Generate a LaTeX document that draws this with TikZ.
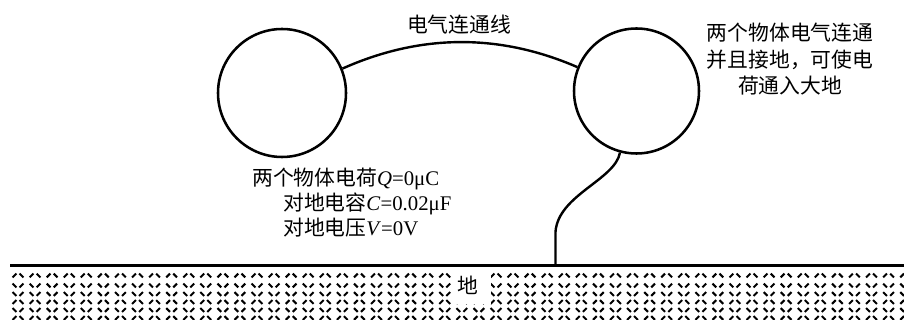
\documentclass[tikz,border=0pt]{standalone}
\usepackage{fontspec}
\setmainfont{Liberation Serif}
\newfontfamily\cjk{Noto Sans CJK SC}
\begin{document}
\begin{tikzpicture}[x=0.75pt,y=-0.75pt,
  obj/.style={circle,draw,line width=1.9pt,inner sep=0pt},
  wire/.style={line width=1.8pt},
  txt/.style={inner sep=0pt,font=\fontsize{15.6pt}{18pt}\selectfont},
  hatchA/.style={line width=1.5pt},
  groundline/.style={line width=2pt}]
\useasboundingbox (0,0) rectangle (904,320);
% objects
\node[obj,minimum size=96pt] (L) at (282,93) {};
\node[obj,minimum size=93.75pt] (R) at (636.5,91) {};
\draw[wire] (L.22) .. controls (420.7,33.7) and (499.3,33.3) .. (R.158);
\node[txt,anchor=base] (lbl) at (459,33) {\cjk 电气连通线};
% right text
\node[txt,anchor=base] (r1) at (790,41) {\cjk 两个物体电气连通};
\node[txt,anchor=base] (r2) at (790,68) {\cjk 并且接地，可使电};
\node[txt,anchor=base] (r3) at (790,94) {\cjk 荷通入大地};
% left text
\node[txt,anchor=base west] (l1) at (252,186) {{\cjk 两个物体电荷}\textit{Q}=0μC};
\node[txt,anchor=base west] (l2) at (283,211) {{\cjk 对地电容}\textit{C}=0.02μF};
\node[txt,anchor=base west] (l3) at (283,236) {{\cjk 对地电压}\textit{V}=0V};
% ground
\coordinate (gl) at (10,265.5);
\coordinate (gr) at (904,265.5);
\coordinate (gw) at (555.5,265.5);
\draw[groundline] (gl) -- (gr);
\draw[wire] (R.255) .. controls (615,180) and (558,195) .. (555.5,232) -- (gw);
% hatch
\foreach \k in {0,...,52}{
  \pgfmathsetmacro{\xc}{18+17.07*\k}
  \foreach \y/\t in {275.5/1,285.5/0,294/0,302/1,310/0,318/1}{
    \ifnum\t=1
      \draw[hatchA] (\xc-3.5,\y) ++(-1.9,1.9) -- ++(3.8,-3.8);
      \draw[hatchA] (\xc+3.5,\y) ++(-1.9,-1.9) -- ++(3.8,3.8);
    \else
      \draw[hatchA] (\xc-3.5,\y) ++(-1.9,-1.9) -- ++(3.8,3.8);
      \draw[hatchA] (\xc+3.5,\y) ++(-1.9,1.9) -- ++(3.8,-3.8);
    \fi
  }
}
\fill[white] (451,268) rectangle (491,304);
\node[txt,anchor=base] (di) at (468,294) {\cjk 地};
\end{tikzpicture}
\end{document}
